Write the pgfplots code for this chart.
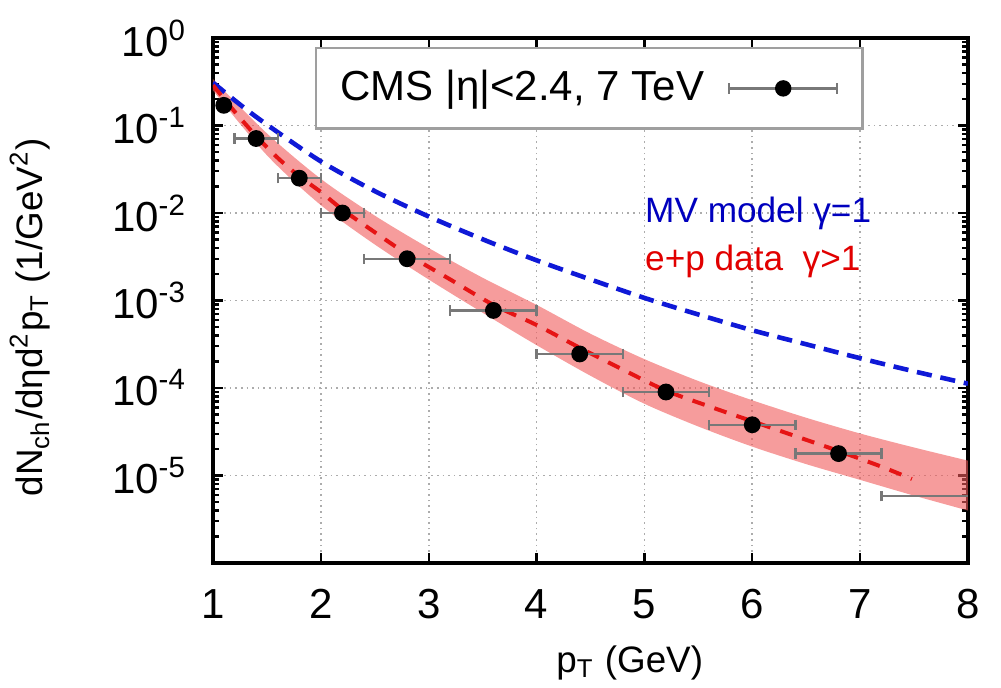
\documentclass[border=0pt]{standalone}
\usepackage{fontspec}
\setmainfont{Liberation Sans}
\setsansfont{Liberation Sans}
\usepackage{pgfplots}
\pgfplotsset{compat=1.18}
\usepgfplotslibrary{fillbetween}
\definecolor{bandred}{RGB}{240,90,90}
\definecolor{mvblue}{RGB}{15,25,215}
\definecolor{fitred}{RGB}{230,20,20}
\definecolor{txtblue}{RGB}{0,0,190}
\definecolor{txtred}{RGB}{225,0,0}
\definecolor{errgray}{RGB}{120,120,120}
\begin{document}
\begin{tikzpicture}
\begin{axis}[
  scale only axis, width=188.75pt, height=131.25pt,
  xmin=1, xmax=8, ymode=log, ymin=1e-6, ymax=1,
  xtick={1,2,3,4,5,6,7,8}, xticklabels={1,2,3,4,5,6,7,8},
  ytick={1e-6,1e-5,1e-4,1e-3,1e-2,1e-1,1},
  yticklabels={{},10\textsuperscript{-5},10\textsuperscript{-4},10\textsuperscript{-3},10\textsuperscript{-2},10\textsuperscript{-1},10\textsuperscript{0}},
  minor ytick={2e-6,3e-6,4e-6,5e-6,6e-6,7e-6,8e-6,9e-6,
               2e-5,3e-5,4e-5,5e-5,6e-5,7e-5,8e-5,9e-5,
               2e-4,3e-4,4e-4,5e-4,6e-4,7e-4,8e-4,9e-4,
               2e-3,3e-3,4e-3,5e-3,6e-3,7e-3,8e-3,9e-3,
               2e-2,3e-2,4e-2,5e-2,6e-2,7e-2,8e-2,9e-2,
               0.2,0.3,0.4,0.5,0.6,0.7,0.8,0.9},
  grid=major,
  major grid style={gray!65, densely dotted, line width=0.4pt},
  minor grid style={draw=none},
  tick style={black, line width=0.6pt},
  major tick length=2.5pt, minor tick length=1.4pt,
  axis line style={line width=0.8pt},
  ticklabel style={font=\fontsize{10.5}{12}\selectfont},
  yticklabel style={xshift=-3pt},
  xticklabel style={yshift=-3pt},
  xlabel={p\textsubscript{T} (GeV)},
  ylabel={dN\textsubscript{ch}/dηd\textsuperscript{2}p\textsubscript{T} (1/GeV\textsuperscript{2})},
  label style={font=\fontsize{9.2}{11}\selectfont},
  xlabel style={at={(axis description cs:0.552,-0.19)}, anchor=center},
  ylabel style={at={(axis description cs:-0.2424,0.468)}, anchor=center, rotate=0},
  legend plot pos=right,
  legend style={at={(0.1351,0.9829)}, anchor=north west, draw=gray!75, fill=white,
    line width=0.6pt, font=\fontsize{10.5}{12}\selectfont,
    inner xsep=6pt, inner ysep=5.5pt, column sep=6pt,
    nodes={inner sep=0pt}},
  legend image code/.code={
    \draw[errgray, line width=0.6pt] (0pt,0pt) -- (27pt,0pt);
    \draw[errgray, line width=0.6pt] (0pt,-1.3pt) -- (0pt,1.3pt);
    \draw[errgray, line width=0.6pt] (27pt,-1.3pt) -- (27pt,1.3pt);
    \fill[black] (13.5pt,0pt) circle (1.75pt);
  },
  clip marker paths=true,
]
% uncertainty band of the e+p fit
\addplot[name path=up, draw=none, smooth, forget plot] table {
x y
1.0 0.3388
1.5 0.08128
2.0 0.02455
2.5 0.009333
3.0 0.003981
3.5 0.001820
4.0 8.913e-4
4.5 4.169e-4
5.0 2.138e-4
5.5 1.202e-4
6.0 7.244e-5
6.5 4.571e-5
7.0 3.020e-5
7.5 2.089e-5
8.0 1.479e-5
};
\addplot[name path=lo, draw=none, smooth, forget plot] table {
x y
1.0 0.2512
1.5 0.04571
2.0 0.01230
2.5 0.004365
3.0 0.001738
3.5 7.244e-4
4.0 3.090e-4
4.5 1.380e-4
5.0 6.607e-5
5.5 3.631e-5
6.0 2.138e-5
6.5 1.349e-5
7.0 8.913e-6
7.5 5.888e-6
8.0 3.981e-6
};
\addplot[fill=bandred, fill opacity=0.6, draw=none, forget plot] fill between[of=up and lo];
% MV model gamma=1
\addplot[mvblue, line width=1.15pt, dash pattern=on 3.8pt off 2.2pt, smooth, forget plot] table {
x y
1.0 0.309
1.25 0.1738
1.5 0.1023
2.0 0.0389
2.5 0.0178
3.0 0.00912
3.5 0.00501
4.0 0.00288
4.5 0.00174
5.0 0.00107
5.5 6.92e-4
6.0 4.57e-4
6.5 3.16e-4
7.0 2.19e-4
7.5 1.55e-4
8.0 1.12e-4
};
% e+p fit gamma>1
\addplot[fitred, line width=1pt, dash pattern=on 3.2pt off 2.6pt, smooth, forget plot] table {
x y
1.0 0.2884
1.2 0.1445
1.4 0.07586
1.6 0.04266
1.8 0.02630
2.0 0.01738
2.2 0.01096
2.5 0.006026
2.8 0.003388
3.2 0.001738
3.6 8.913e-4
4.0 5.248e-4
4.4 2.884e-4
4.8 1.622e-4
5.2 9.333e-5
5.6 6.166e-5
6.0 4.169e-5
6.4 2.818e-5
6.8 1.905e-5
7.2 1.259e-5
7.48 9.12e-6
};
% CMS data
\addplot[only marks, mark=*, mark size=1.9pt, black,
  error bars/.cd, x dir=both, x explicit,
  error bar style={errgray, line width=0.6pt},
  error mark options={errgray, line width=0.6pt, mark size=1.3pt, rotate=90}]
  table[x=x, y=y, x error=ex] {
x y ex
1.1 0.17 0
1.4 0.071 0.2
1.8 0.025 0.2
2.2 0.010 0.2
2.8 0.0030 0.4
3.6 7.7e-4 0.4
4.4 2.45e-4 0.4
5.2 9.0e-5 0.4
6.0 3.8e-5 0.4
6.8 1.78e-5 0.4
8.4 5.8e-6 1.2
};
\addlegendentry{CMS |η|<2.4, 7 TeV}
\node[anchor=west, text=txtblue, font=\fontsize{8.8}{10}\selectfont, inner sep=0pt] at (axis cs:5,1e-2) {MV model γ=1};
\node[anchor=west, text=txtred, font=\fontsize{8.8}{10}\selectfont, inner sep=0pt] at (axis cs:5,2.8e-3) {e+p data\ \ γ>1};
\end{axis}
\pgfresetboundingbox
\path (-53.25pt,-31.25pt) rectangle (197pt,140.75pt);
\end{tikzpicture}
\end{document}
